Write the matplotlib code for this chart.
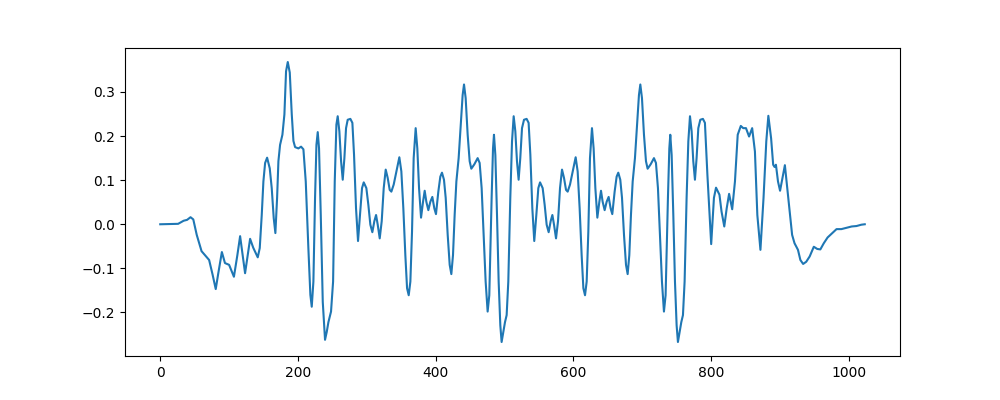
import matplotlib
matplotlib.use("Agg")
import matplotlib.pyplot as plt

# sample index / amplitude
x = [0, 26, 34, 39, 44, 48, 53, 60, 65, 71, 76, 80.6, 84, 89.5, 94, 100, 107, 112, 116, 123.2,
     130.5, 135, 141.6,
     144.5, 147.4, 149.8, 152.3, 155.2, 159.0, 161.9, 164.8, 167.2, 169.7, 171.6, 174.0, 177.4,
     180.3, 182.7, 185.2, 188.1, 191.0, 193.4, 195.8, 200.6, 204.5, 207.9, 211.3, 215.1, 218.0,
     220.0, 222.4, 224.8, 226.8, 228.7, 230.6, 233.1, 236.0, 239.3, 241.8, 244.2, 248.0,
     251.0, 253.4, 255.8, 257.7, 260.1, 262.6, 265.0, 267.4, 269.8, 272.2, 276.1, 279.0, 281.4,
     284.3, 287.2, 290.1, 293.0, 295.5, 299.3, 302.2, 305.1, 308.0, 310.9, 313.4, 315.8, 318.7,
     321.6, 324.5, 327.4, 330.3, 333.2, 335.6, 339.0, 342.9, 347.2, 350.1, 353.0, 355.9, 358.4,
     360.8, 363.2, 365.6, 368.0, 370.9, 373.3, 375.8, 378.7, 381.6, 384.0, 386.4, 389.3, 392.2,
     395.1, 398.0, 400.4, 403.8, 406.7, 409.1, 412.0, 414.5, 417.4, 420.3, 422.7, 425.1, 427.5,
     430.0, 433.3, 436.7, 439.1, 441.1, 443.5, 446.4, 449.3, 451.7, 456.1, 460.9, 463.8, 466.7,
     469.6, 472.5, 475.4, 477.8,
     481.2, 483.2, 484.6, 486.6, 489.0, 491.4, 493.8, 495.7, 498.2, 500.6, 503.0, 505.4, 508.3,
     510.8, 513.2, 515.6, 518.0, 520.4, 522.8, 525.3, 528.2, 532.0, 534.9, 537.4, 540.3, 543.1,
     546.1, 549.0, 551.5, 555.3, 558.2, 561.1, 564.0, 566.9, 569.4, 571.8, 574.7, 577.6, 580.5,
     583.4, 586.3, 589.2, 591.6, 595.0, 598.9, 603.2, 606.1, 609.0, 611.9, 614.4, 616.8, 619.2,
     621.6, 624.0, 626.9, 629.3, 631.8, 634.7, 637.6, 640.0, 642.4, 645.3, 648.2, 651.1, 654.0,
     656.4, 659.8, 662.7, 665.1, 668.0, 670.5, 673.4, 676.3, 678.7, 681.1, 683.5, 686.0, 689.3,
     692.7, 695.1, 697.1, 699.5, 702.4, 705.3, 707.7, 712.1, 716.9, 719.8, 722.7, 725.6, 728.5,
     731.4, 733.8,
     737.2, 739.2, 740.6, 742.6, 745.0, 747.4, 749.8, 751.7, 754.2, 756.6, 759.0, 761.4, 764.3,
     766.8, 769.2, 771.6, 774.0, 776.4, 778.8, 781.3, 784.2, 788.0, 790.9,
     794.5, 800, 804, 807, 812, 815, 819, 822.5, 826, 830.5, 834.5, 838.5, 843, 846.5, 850.5,
     855, 859.5, 863.5, 867, 871.5, 876, 880, 883, 887, 890, 892, 894, 897, 900, 907, 909.5,
     913.5, 917.5, 921, 926, 929.5, 933.5, 938, 943, 949, 954, 958.5, 963.5, 969, 974.5, 982,
     989, 996.5, 1004, 1011, 1018, 1023]
y = [0.0, 0.001, 0.008, 0.01, 0.016, 0.011, -0.024, -0.061, -0.07, -0.081, -0.114, -0.147,
     -0.114, -0.063, -0.088, -0.092, -0.119, -0.07, -0.027, -0.111, -0.033, -0.053, -0.075,
     -0.054, 0.021, 0.097, 0.139, 0.151, 0.127, 0.082, 0.014, -0.02, 0.06, 0.143, 0.18, 0.203,
     0.249, 0.347, 0.368, 0.344, 0.249, 0.189, 0.175, 0.172, 0.176, 0.17, 0.097, -0.054, -0.16,
     -0.187, -0.13, 0.06, 0.18, 0.209, 0.172, 0.021, -0.176, -0.262, -0.244, -0.222, -0.198,
     -0.13, 0.097, 0.226, 0.245, 0.211, 0.143, 0.101, 0.15, 0.218, 0.237, 0.239, 0.23, 0.158,
     0.036, -0.038, 0.021, 0.082, 0.095, 0.082, 0.044, -0.001, -0.018, 0.007, 0.021, -0.001,
     -0.032, 0.007, 0.082, 0.124, 0.105, 0.078, 0.074, 0.09, 0.12, 0.152, 0.12, 0.036, -0.07,
     -0.145, -0.161, -0.13, -0.017, 0.15, 0.218, 0.172, 0.082, 0.015, 0.051, 0.076, 0.051, 0.032,
     0.051, 0.062, 0.036, 0.023, 0.074, 0.108, 0.117, 0.101, 0.06, -0.024, -0.092, -0.113, -0.07,
     0.021, 0.097, 0.15, 0.233, 0.293, 0.317, 0.286, 0.203, 0.143, 0.126, 0.136, 0.15, 0.139,
     0.082, -0.024, -0.13, -0.198, -0.161,
     0.06, 0.172, 0.203, 0.157, 0.021, -0.13, -0.229, -0.267, -0.244, -0.222, -0.206, -0.13,
     0.06, 0.188, 0.245, 0.211, 0.143, 0.101, 0.15, 0.218, 0.237, 0.239, 0.23, 0.158, 0.036,
     -0.038,
     0.021, 0.082, 0.095, 0.082, 0.044, -0.001, -0.018, 0.007, 0.021, -0.001, -0.032, 0.007,
     0.082, 0.124, 0.105, 0.078, 0.074, 0.09, 0.12, 0.152, 0.12, 0.036, -0.07, -0.145, -0.161,
     -0.13, -0.017, 0.15, 0.218, 0.172, 0.082, 0.015, 0.051, 0.076, 0.051, 0.032, 0.051, 0.062,
     0.036, 0.023, 0.074, 0.108, 0.117, 0.101, 0.06, -0.024, -0.092, -0.113, -0.07, 0.021, 0.097,
     0.15, 0.233, 0.293, 0.317, 0.286, 0.203, 0.143, 0.126, 0.136, 0.15, 0.139, 0.082, -0.024,
     -0.13, -0.198, -0.161,
     0.06, 0.172, 0.203, 0.157, 0.021, -0.13, -0.229, -0.267, -0.244, -0.222, -0.206, -0.13,
     0.06, 0.188, 0.245, 0.211, 0.143, 0.101, 0.15, 0.218, 0.237, 0.239, 0.23,
     0.112, -0.045, 0.06, 0.083, 0.067, 0.029, -0.005, 0.036, 0.069, 0.034, 0.097, 0.203, 0.223,
     0.218, 0.218, 0.199, 0.218, 0.165, 0.021, -0.058, 0.06, 0.188, 0.246, 0.195, 0.135, 0.13,
     0.135, 0.097, 0.076, 0.134, 0.097, 0.036, -0.024, -0.043, -0.058, -0.081, -0.09, -0.085,
     -0.073, -0.051, -0.056, -0.057, -0.043, -0.03, -0.022, -0.011, -0.011, -0.008, -0.005,
     -0.004, -0.001, 0.0]

fig, ax = plt.subplots(figsize=(10, 4), dpi=100)
ax.plot(x, y, color="#1f77b4", lw=1.5)
fig.savefig("out.png")
